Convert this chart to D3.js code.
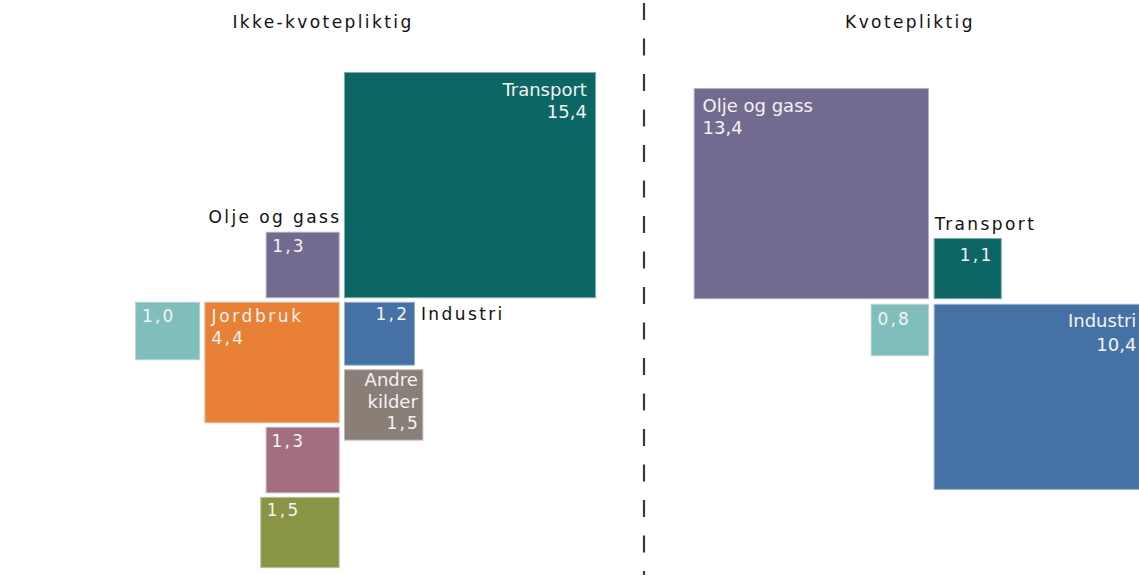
<!DOCTYPE html>
<html><head><meta charset="utf-8">
<script src="https://cdn.jsdelivr.net/npm/d3@7"></script>
<style>body{margin:0;background:#fff;} svg{display:block;}</style>
</head><body><svg id="c" width="1139" height="575"></svg>
<script>
// ---------- data ----------
const panelTitles = ["Ikke-kvotepliktig", "Kvotepliktig"];
const leftNames  = ["Transport", "Olje og gass", "Jordbruk", "Industri", "Andre kilder", "", "", ""];
const leftValues = [15.4, 1.3, 4.4, 1.2, 1.5, 1.0, 1.3, 1.5];
const rightNames  = ["Olje og gass", "Transport", "", "Industri"];
const rightValues = [13.4, 1.1, 0.8, 10.4];

// ---------- styles ----------
const leftColors  = ["#0c6663", "#736b8f", "#e88036", "#4671a5", "#8a7f77", "#80bebb", "#a36e7e", "#899444"];
const rightColors = ["#736b8f", "#0c6663", "#80bebb", "#4671a5"];

const textStyles = {
  plain:  {size: 18, ls: 0,   fill: "#f3f3f3"},
  spaced: {size: 17, ls: 2.2, fill: "#f3f3f3"},
  spacedIn: {size: 17, ls: 2.6, fill: "#f3f3f3"},
  outer:  {size: 17, ls: 2.4, fill: "#111"}
};

// area-proportional sizing (chart is slightly stretched horizontally)
const wScale = d3.scaleSqrt().domain([0, 16]).range([0, 256]);
const hScale = d3.scaleSqrt().domain([0, 16]).range([0, 229.6]);
const fmt = v => d3.format(".1f")(v).replace(".", ",");

// ---------- layout ----------
const panels = [
  {cx: 341.8, cy: 300, gx: 5.3, gy: 4.6, titleX: 323, title: panelTitles[0],
   names: leftNames, values: leftValues, colors: leftColors,
   place: [{q: "tr"}, {q: "tl"}, {q: "bl"}, {q: "br"}, {below: 3}, {leftOf: 2}, {below: 2}, {below: 6}],
   labels: [
     [{k: "name", c: "tr", dx: -8.7, dy: 23.3, a: "end", s: "plain"}, {k: "value", c: "tr", dx: -8.7, dy: 45.5, a: "end", s: "plain"}],
     [{k: "name", c: "tr", dx: 0, dy: -9.3, a: "end", s: "outer"}, {k: "value", c: "tl", dx: 6, dy: 19.4, a: "start", s: "spaced"}],
     [{k: "name", c: "tl", dx: 6.7, dy: 20, a: "start", s: "spacedIn"}, {k: "value", c: "tl", dx: 6.7, dy: 41.6, a: "start", s: "spaced"}],
     [{k: "value", c: "tr", dx: -7.6, dy: 17.7, a: "end", s: "spaced"}, {k: "name", c: "tr", dx: 6.4, dy: 17.7, a: "start", s: "outer"}],
     [{k: "w0", c: "tr", dx: -5, dy: 16.6, a: "end", s: "plain"}, {k: "w1", c: "tr", dx: -5, dy: 38, a: "end", s: "plain"}, {k: "value", c: "tr", dx: -5, dy: 59.3, a: "end", s: "spaced"}],
     [{k: "value", c: "tl", dx: 6.4, dy: 19.4, a: "start", s: "spaced"}],
     [{k: "value", c: "tl", dx: 5.4, dy: 19.4, a: "start", s: "spaced"}],
     [{k: "value", c: "tl", dx: 6, dy: 18.7, a: "start", s: "spaced"}]
   ]},
  {cx: 931.3, cy: 301.5, gx: 5.7, gy: 5.6, titleX: 910, title: panelTitles[1],
   names: rightNames, values: rightValues, colors: rightColors,
   place: [{q: "tl"}, {q: "tr"}, {q: "bl"}, {q: "br"}],
   labels: [
     [{k: "name", c: "tl", dx: 8.4, dy: 23, a: "start", s: "plain"}, {k: "value", c: "tl", dx: 8.4, dy: 45.3, a: "start", s: "plain"}],
     [{k: "name", c: "tl", dx: 0.7, dy: -8.7, a: "start", s: "outer"}, {k: "value", c: "tr", dx: -10, dy: 22.3, a: "end", s: "spaced"}],
     [{k: "value", c: "tl", dx: 6.3, dy: 20.7, a: "start", s: "spaced"}],
     [{k: "name", c: "tr", dx: -4.2, dy: 23, a: "end", s: "plain"}, {k: "value", c: "tr", dx: -4.2, dy: 46.3, a: "end", s: "plain"}]
   ]}
];

const svg = d3.select("#c");
svg.append("rect").attr("width", 1139).attr("height", 575).attr("fill", "#fff");

// dashed divider
svg.append("line").attr("x1", 644).attr("x2", 644).attr("y1", 3).attr("y2", 575)
  .attr("stroke", "#3a3a3a").attr("stroke-width", 2.2).attr("stroke-dasharray", "17,18.5");

function addText(g, x, y, txt, anchor, st) {
  const s = textStyles[st];
  g.append("text").attr("x", anchor === "end" ? x + s.ls : x).attr("y", y)
    .attr("text-anchor", anchor)
    .attr("font-family", "'DejaVu Sans', sans-serif")
    .attr("font-size", s.size).attr("letter-spacing", s.ls)
    .attr("fill", s.fill).text(txt);
}

panels.forEach(p => {
  const g = svg.append("g");
  addText(g, p.titleX, 28.3, p.title, "middle", "outer");

  const boxes = [];
  p.values.forEach((v, i) => {
    const w = wScale(v), h = hScale(v);
    const pl = p.place[i];
    let x, y;
    if (pl.q) {
      x = pl.q[1] === "r" ? p.cx + p.gx / 2 : p.cx - p.gx / 2 - w;
      y = pl.q[0] === "t" ? p.cy - p.gy / 2 - h : p.cy + p.gy / 2;
    } else if (pl.below !== undefined) {
      const b = boxes[pl.below];
      const right = b.x + b.w, isLeftSide = right <= p.cx;
      x = isLeftSide ? right - w : b.x;
      y = b.y + b.h + p.gy;
    } else if (pl.leftOf !== undefined) {
      const b = boxes[pl.leftOf];
      x = b.x - p.gx - w;
      y = b.y;
    }
    boxes.push({x, y, w, h});
  });

  g.selectAll("rect.box").data(boxes).join("rect").attr("class", "box")
    .attr("x", d => d.x).attr("y", d => d.y)
    .attr("width", d => d.w).attr("height", d => d.h)
    .attr("fill", (d, i) => p.colors[i])
    .attr("stroke", (d, i) => d3.interpolateRgb(p.colors[i], "#dde3ee")(0.55))
    .attr("stroke-width", 1);

  boxes.forEach((b, i) => {
    const name = p.names[i];
    const words = name.split(" ");
    p.labels[i].forEach(l => {
      let txt;
      if (l.k === "name") txt = name;
      else if (l.k === "value") txt = fmt(p.values[i]);
      else if (l.k === "w0") txt = words[0];
      else if (l.k === "w1") txt = words.slice(1).join(" ");
      const bx = l.c[1] === "r" ? b.x + b.w : b.x;
      addText(g, bx + l.dx, b.y + l.dy, txt, l.a, l.s);
    });
  });
});
</script>
</body></html>
